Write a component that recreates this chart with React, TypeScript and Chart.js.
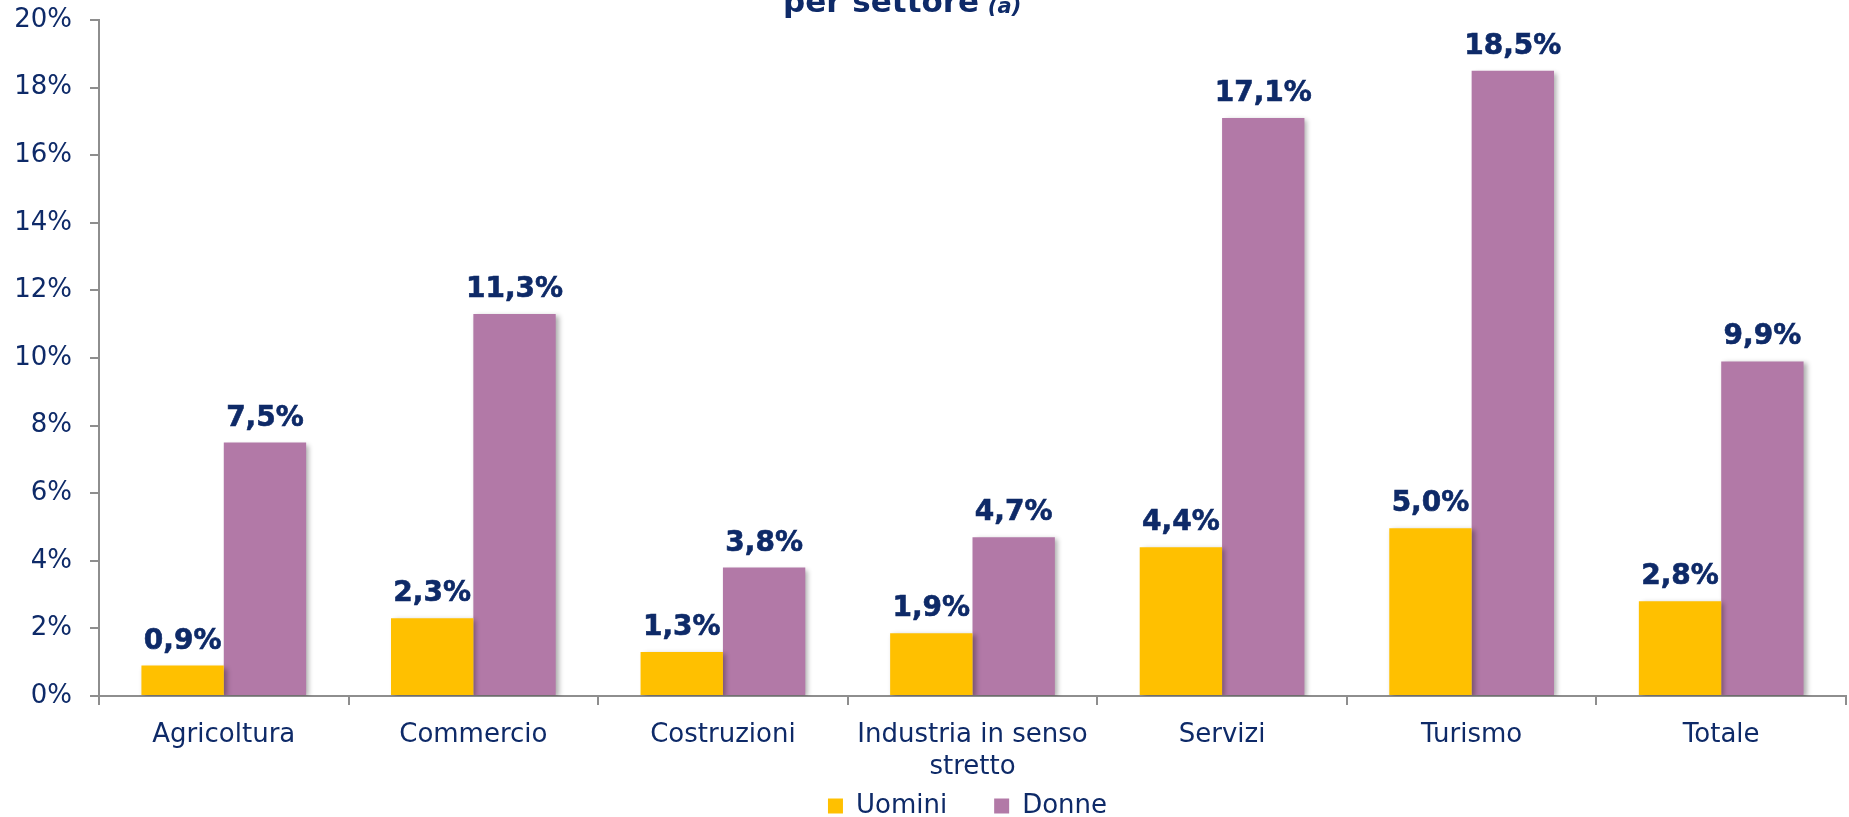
import React, { useEffect, useRef } from "react";
import { Chart, registerables } from "chart.js";

Chart.register(...registerables);

const categories: (string | string[])[] = [
  "Agricoltura",
  "Commercio",
  "Costruzioni",
  ["Industria in senso", "stretto"],
  "Servizi",
  "Turismo",
  "Totale",
];
const seriesNames = ["Uomini", "Donne"];
const uomini = [0.9, 2.3, 1.3, 1.86, 4.4, 4.96, 2.8];
const donne = [7.5, 11.3, 3.8, 4.7, 17.1, 18.5, 9.9];
const yMin = 0;
const yMax = 20;
const yStep = 2;
const titleMain = "per settore";
const titleNote = "(a)";

const NAVY = "#0e2a68";
const AXIS = "#8e8e8e";
const YELLOW = "#FFC000";
const PURPLE = "#B279A7";
const FONT = "'DejaVu Sans', Verdana, sans-serif";
const LEGEND_PAD = 47;
const LEGEND_FONT = 26;

const fmt = (v: number) => v.toFixed(1).replace(".", ",") + "%";

const decoPlugin = {
  id: "deco",
  afterLayout(chart: any) {
    const lg = chart.legend;
    if (!lg) return;
    // place legend row near the bottom edge, centred under the plot area
    const centerY = chart.height - 11;
    const top = centerY - LEGEND_PAD - LEGEND_FONT / 2;
    const h = LEGEND_FONT + LEGEND_PAD + 10;
    lg.top = top;
    lg.bottom = top + h;
    lg.height = h;
    const ca = chart.chartArea;
    const shift = -5;
    lg.left = ca.left + shift;
    lg.right = ca.right + shift;
    lg.width = lg.right - lg.left;
  },
  beforeDatasetsDraw(chart: any) {
    const ctx = chart.ctx;
    ctx.save();
    ctx.shadowColor = "rgba(0,0,0,0.32)";
    ctx.shadowBlur = 5;
    ctx.shadowOffsetX = 3;
    ctx.shadowOffsetY = 2;
  },
  afterDatasetsDraw(chart: any) {
    const ctx = chart.ctx;
    ctx.restore();
    ctx.save();
    ctx.font = `bold 28px ${FONT}`;
    ctx.fillStyle = NAVY;
    ctx.strokeStyle = NAVY;
    ctx.lineWidth = 0.6;
    ctx.textAlign = "center";
    ctx.textBaseline = "alphabetic";
    chart.data.datasets.forEach((ds: any, i: number) => {
      const meta = chart.getDatasetMeta(i);
      meta.data.forEach((bar: any, j: number) => {
        const t = fmt(ds.data[j]);
        ctx.fillText(t, bar.x, bar.y - 17);
        ctx.strokeText(t, bar.x, bar.y - 17);
      });
    });
    ctx.restore();
  },
  afterDraw(chart: any) {
    const ctx = chart.ctx;
    ctx.save();
    ctx.fillStyle = NAVY;
    ctx.textBaseline = "alphabetic";
    ctx.textAlign = "left";
    ctx.font = `bold 31px ${FONT}`;
    const x0 = chart.width * 0.4235;
    ctx.fillText(titleMain, x0, 12);
    const w = ctx.measureText(titleMain + " ").width;
    ctx.font = `italic bold 21px ${FONT}`;
    ctx.fillText(titleNote, x0 + w - 2, 13);
    ctx.restore();
  },
};

export default function App() {
  const ref = useRef<HTMLCanvasElement | null>(null);

  useEffect(() => {
    if (!ref.current) return;
    const chart = new Chart(ref.current, {
      type: "bar",
      data: {
        labels: categories as any,
        datasets: [
          {
            label: seriesNames[0],
            data: uomini,
            backgroundColor: YELLOW,
            borderWidth: 0,
            categoryPercentage: 0.66,
            barPercentage: 1.0,
          },
          {
            label: seriesNames[1],
            data: donne,
            backgroundColor: PURPLE,
            borderWidth: 0,
            categoryPercentage: 0.66,
            barPercentage: 1.0,
          },
        ],
      },
      options: {
        animation: false,
        responsive: true,
        maintainAspectRatio: false,
        layout: { padding: { left: 0, right: 3, top: 20, bottom: 0 } },
        plugins: {
          title: { display: false },
          tooltip: { enabled: false },
          legend: {
            display: true,
            position: "bottom",
            maxHeight: 39,
            labels: {
              boxWidth: 15,
              boxHeight: 15,
              padding: LEGEND_PAD,
              color: NAVY,
              font: { family: FONT, size: LEGEND_FONT },
            },
          },
        },
        scales: {
          x: {
            grid: {
              display: true,
              offset: true,
              drawOnChartArea: false,
              drawTicks: true,
              tickLength: 9,
              color: AXIS,
              lineWidth: 2,
            },
            border: { display: true, color: AXIS, width: 2 },
            ticks: {
              color: NAVY,
              font: { family: FONT, size: 26 },
              padding: 15,
              maxRotation: 0,
              autoSkip: false,
            },
            afterFit: (scale: any) => {
              scale.height = 82;
            },
          },
          y: {
            min: yMin,
            max: yMax,
            grid: {
              display: true,
              drawOnChartArea: false,
              drawTicks: true,
              tickLength: 9,
              color: AXIS,
              lineWidth: 2,
            },
            border: { display: true, color: AXIS, width: 2 },
            ticks: {
              stepSize: yStep,
              color: NAVY,
              font: { family: FONT, size: 26 },
              padding: 18,
              callback: (v: any) => `${v}%`,
            },
            afterFit: (scale: any) => {
              scale.width = 99;
              scale.paddingTop = 0;
              scale.paddingBottom = 0;
            },
          },
        },
      },
      plugins: [decoPlugin],
    });
    return () => chart.destroy();
  }, []);

  return (
    <div style={{ position: "fixed", left: 0, top: 0, width: 1849, height: 817, background: "#fff" }}>
      <canvas ref={ref} />
    </div>
  );
}
